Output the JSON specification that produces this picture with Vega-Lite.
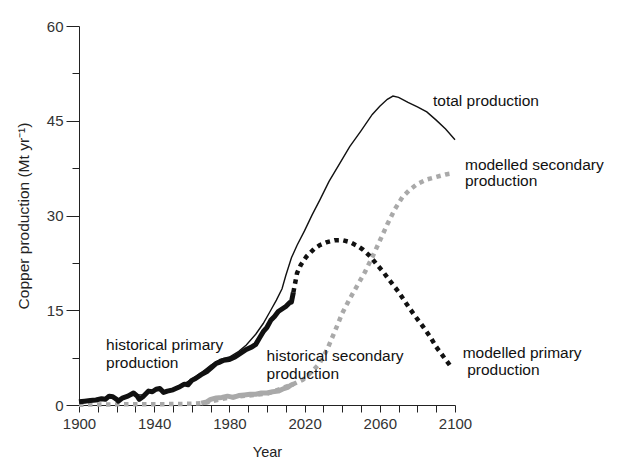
{
  "$schema": "https://vega.github.io/schema/vega-lite/v6.json",
  "autosize": {"type": "none"},
  "width": 376,
  "height": 379,
  "padding": {"left": 79, "top": 26, "right": 167, "bottom": 67},
  "background": "white",
  "config": {
    "view": {"stroke": null},
    "font": "Liberation Sans",
    "axis": {
      "grid": false,
      "domainColor": "#222",
      "domainWidth": 1,
      "tickColor": "#222",
      "tickWidth": 1,
      "labelColor": "#333",
      "labelFont": "Liberation Sans",
      "labelFontSize": 15,
      "labelFlush": false,
      "labelOverlap": false,
      "titleFont": "Liberation Sans",
      "titleFontSize": 14.5,
      "titleFontWeight": "normal",
      "titleColor": "#222"
    }
  },
  "datasets": {
    "lines": [
      {"series": "historical primary", "year": 1900, "value": 0.5},
      {"series": "historical primary", "year": 1903, "value": 0.6},
      {"series": "historical primary", "year": 1906, "value": 0.7},
      {"series": "historical primary", "year": 1909, "value": 0.8},
      {"series": "historical primary", "year": 1912, "value": 1.0},
      {"series": "historical primary", "year": 1914, "value": 0.9},
      {"series": "historical primary", "year": 1916, "value": 1.4},
      {"series": "historical primary", "year": 1918, "value": 1.3},
      {"series": "historical primary", "year": 1920, "value": 0.9},
      {"series": "historical primary", "year": 1921, "value": 0.6},
      {"series": "historical primary", "year": 1923, "value": 1.1},
      {"series": "historical primary", "year": 1926, "value": 1.4},
      {"series": "historical primary", "year": 1929, "value": 1.9},
      {"series": "historical primary", "year": 1931, "value": 1.4},
      {"series": "historical primary", "year": 1932, "value": 0.9},
      {"series": "historical primary", "year": 1934, "value": 1.3},
      {"series": "historical primary", "year": 1937, "value": 2.2},
      {"series": "historical primary", "year": 1939, "value": 2.1},
      {"series": "historical primary", "year": 1941, "value": 2.5},
      {"series": "historical primary", "year": 1943, "value": 2.6},
      {"series": "historical primary", "year": 1945, "value": 2.0},
      {"series": "historical primary", "year": 1947, "value": 2.2},
      {"series": "historical primary", "year": 1950, "value": 2.4},
      {"series": "historical primary", "year": 1953, "value": 2.8},
      {"series": "historical primary", "year": 1956, "value": 3.3},
      {"series": "historical primary", "year": 1958, "value": 3.2},
      {"series": "historical primary", "year": 1960, "value": 3.9},
      {"series": "historical primary", "year": 1962, "value": 4.2},
      {"series": "historical primary", "year": 1965, "value": 4.8},
      {"series": "historical primary", "year": 1968, "value": 5.3},
      {"series": "historical primary", "year": 1970, "value": 5.8},
      {"series": "historical primary", "year": 1973, "value": 6.6},
      {"series": "historical primary", "year": 1975, "value": 6.8},
      {"series": "historical primary", "year": 1977, "value": 7.1},
      {"series": "historical primary", "year": 1980, "value": 7.2},
      {"series": "historical primary", "year": 1983, "value": 7.6},
      {"series": "historical primary", "year": 1986, "value": 8.2},
      {"series": "historical primary", "year": 1989, "value": 8.8},
      {"series": "historical primary", "year": 1992, "value": 9.2},
      {"series": "historical primary", "year": 1994, "value": 9.6},
      {"series": "historical primary", "year": 1996, "value": 10.6},
      {"series": "historical primary", "year": 1998, "value": 11.6},
      {"series": "historical primary", "year": 2000, "value": 12.3},
      {"series": "historical primary", "year": 2002, "value": 13.4},
      {"series": "historical primary", "year": 2004, "value": 14.0},
      {"series": "historical primary", "year": 2006, "value": 14.8},
      {"series": "historical primary", "year": 2008, "value": 15.2},
      {"series": "historical primary", "year": 2010, "value": 15.6},
      {"series": "historical primary", "year": 2012, "value": 16.2},
      {"series": "historical primary", "year": 2013, "value": 16.3},
      {"series": "historical primary", "year": 2014, "value": 17.8},

      {"series": "historical secondary", "year": 1965, "value": 0.3},
      {"series": "historical secondary", "year": 1968, "value": 0.5},
      {"series": "historical secondary", "year": 1970, "value": 0.9},
      {"series": "historical secondary", "year": 1973, "value": 1.1},
      {"series": "historical secondary", "year": 1976, "value": 1.2},
      {"series": "historical secondary", "year": 1979, "value": 1.4},
      {"series": "historical secondary", "year": 1982, "value": 1.2},
      {"series": "historical secondary", "year": 1985, "value": 1.5},
      {"series": "historical secondary", "year": 1988, "value": 1.6},
      {"series": "historical secondary", "year": 1991, "value": 1.7},
      {"series": "historical secondary", "year": 1994, "value": 1.7},
      {"series": "historical secondary", "year": 1997, "value": 1.9},
      {"series": "historical secondary", "year": 2000, "value": 1.9},
      {"series": "historical secondary", "year": 2003, "value": 2.1},
      {"series": "historical secondary", "year": 2006, "value": 2.2},
      {"series": "historical secondary", "year": 2009, "value": 2.6},
      {"series": "historical secondary", "year": 2011, "value": 2.8},
      {"series": "historical secondary", "year": 2013, "value": 3.2},
      {"series": "historical secondary", "year": 2014, "value": 3.3},

      {"series": "modelled secondary", "year": 1900, "value": 0.05},
      {"series": "modelled secondary", "year": 1920, "value": 0.1},
      {"series": "modelled secondary", "year": 1940, "value": 0.1},
      {"series": "modelled secondary", "year": 1960, "value": 0.2},
      {"series": "modelled secondary", "year": 1966, "value": 0.3},
      {"series": "modelled secondary", "year": 1980, "value": 1.2},
      {"series": "modelled secondary", "year": 2000, "value": 1.8},
      {"series": "modelled secondary", "year": 2014, "value": 3.3},
      {"series": "modelled secondary", "year": 2019, "value": 4.0},
      {"series": "modelled secondary", "year": 2024, "value": 5.3},
      {"series": "modelled secondary", "year": 2028, "value": 6.6},
      {"series": "modelled secondary", "year": 2032, "value": 8.8},
      {"series": "modelled secondary", "year": 2036, "value": 11.6},
      {"series": "modelled secondary", "year": 2040, "value": 14.5},
      {"series": "modelled secondary", "year": 2044, "value": 16.8},
      {"series": "modelled secondary", "year": 2048, "value": 18.9},
      {"series": "modelled secondary", "year": 2052, "value": 21.0},
      {"series": "modelled secondary", "year": 2056, "value": 23.4},
      {"series": "modelled secondary", "year": 2060, "value": 26.0},
      {"series": "modelled secondary", "year": 2064, "value": 28.6},
      {"series": "modelled secondary", "year": 2068, "value": 31.0},
      {"series": "modelled secondary", "year": 2072, "value": 32.9},
      {"series": "modelled secondary", "year": 2076, "value": 34.1},
      {"series": "modelled secondary", "year": 2080, "value": 35.0},
      {"series": "modelled secondary", "year": 2085, "value": 35.7},
      {"series": "modelled secondary", "year": 2090, "value": 36.1},
      {"series": "modelled secondary", "year": 2095, "value": 36.5},
      {"series": "modelled secondary", "year": 2099, "value": 36.7},

      {"series": "modelled primary", "year": 2014, "value": 17.8},
      {"series": "modelled primary", "year": 2016, "value": 20.9},
      {"series": "modelled primary", "year": 2018, "value": 22.2},
      {"series": "modelled primary", "year": 2021, "value": 23.5},
      {"series": "modelled primary", "year": 2025, "value": 24.7},
      {"series": "modelled primary", "year": 2028, "value": 25.3},
      {"series": "modelled primary", "year": 2032, "value": 25.8},
      {"series": "modelled primary", "year": 2036, "value": 26.1},
      {"series": "modelled primary", "year": 2040, "value": 26.1},
      {"series": "modelled primary", "year": 2044, "value": 25.8},
      {"series": "modelled primary", "year": 2048, "value": 25.2},
      {"series": "modelled primary", "year": 2051, "value": 24.6},
      {"series": "modelled primary", "year": 2055, "value": 23.5},
      {"series": "modelled primary", "year": 2058, "value": 22.4},
      {"series": "modelled primary", "year": 2062, "value": 21.0},
      {"series": "modelled primary", "year": 2065, "value": 19.8},
      {"series": "modelled primary", "year": 2070, "value": 17.9},
      {"series": "modelled primary", "year": 2074, "value": 16.1},
      {"series": "modelled primary", "year": 2078, "value": 14.4},
      {"series": "modelled primary", "year": 2083, "value": 12.4},
      {"series": "modelled primary", "year": 2087, "value": 10.7},
      {"series": "modelled primary", "year": 2090, "value": 9.2},
      {"series": "modelled primary", "year": 2094, "value": 7.6},
      {"series": "modelled primary", "year": 2097.5, "value": 6.2},

      {"series": "total", "year": 1900, "value": 0.6},
      {"series": "total", "year": 1905, "value": 0.7},
      {"series": "total", "year": 1910, "value": 0.9},
      {"series": "total", "year": 1915, "value": 1.2},
      {"series": "total", "year": 1920, "value": 0.9},
      {"series": "total", "year": 1925, "value": 1.3},
      {"series": "total", "year": 1930, "value": 1.6},
      {"series": "total", "year": 1935, "value": 1.6},
      {"series": "total", "year": 1940, "value": 2.4},
      {"series": "total", "year": 1945, "value": 2.2},
      {"series": "total", "year": 1950, "value": 2.6},
      {"series": "total", "year": 1955, "value": 3.2},
      {"series": "total", "year": 1960, "value": 4.1},
      {"series": "total", "year": 1965, "value": 5.1},
      {"series": "total", "year": 1970, "value": 6.3},
      {"series": "total", "year": 1975, "value": 7.2},
      {"series": "total", "year": 1980, "value": 7.6},
      {"series": "total", "year": 1985, "value": 8.5},
      {"series": "total", "year": 1989, "value": 9.5},
      {"series": "total", "year": 1994, "value": 11.2},
      {"series": "total", "year": 1998, "value": 12.9},
      {"series": "total", "year": 2002, "value": 15.0},
      {"series": "total", "year": 2005, "value": 16.6},
      {"series": "total", "year": 2008, "value": 18.4},
      {"series": "total", "year": 2010, "value": 20.5},
      {"series": "total", "year": 2013, "value": 23.3},
      {"series": "total", "year": 2016, "value": 25.3},
      {"series": "total", "year": 2020, "value": 27.6},
      {"series": "total", "year": 2024, "value": 30.1},
      {"series": "total", "year": 2028, "value": 32.4},
      {"series": "total", "year": 2033, "value": 35.4},
      {"series": "total", "year": 2038, "value": 37.9},
      {"series": "total", "year": 2044, "value": 40.9},
      {"series": "total", "year": 2050, "value": 43.4},
      {"series": "total", "year": 2056, "value": 46.0},
      {"series": "total", "year": 2060, "value": 47.3},
      {"series": "total", "year": 2064, "value": 48.4},
      {"series": "total", "year": 2067, "value": 48.9},
      {"series": "total", "year": 2070, "value": 48.7},
      {"series": "total", "year": 2075, "value": 47.9},
      {"series": "total", "year": 2080, "value": 47.2},
      {"series": "total", "year": 2085, "value": 46.4},
      {"series": "total", "year": 2090, "value": 45.1},
      {"series": "total", "year": 2095, "value": 43.7},
      {"series": "total", "year": 2100, "value": 42.0}
    ],
    "labels": [
      {"text": "total production", "year": 2088.3, "value": 48.2},
      {"text": "modelled secondary", "year": 2105.3, "value": 38.0},
      {"text": "production", "year": 2105.3, "value": 35.4},
      {"text": "modelled primary", "year": 2104.1, "value": 8.2},
      {"text": "production", "year": 2106.5, "value": 5.5},
      {"text": "historical primary", "year": 1914.4, "value": 9.5},
      {"text": "production", "year": 1914.4, "value": 6.7},
      {"text": "historical secondary", "year": 1999.8, "value": 7.76},
      {"text": "production", "year": 1999.8, "value": 4.9}
    ]
  },
  "encoding": {
    "x": {
      "field": "year",
      "type": "quantitative",
      "scale": {"domain": [1900, 2100], "nice": false, "zero": false},
      "axis": {
        "title": "Year",
        "values": [1900, 1910, 1920, 1930, 1940, 1950, 1960, 1970, 1980, 1990, 2000, 2010, 2020, 2030, 2040, 2050, 2060, 2070, 2080, 2090, 2100],
        "format": "d",
        "labelExpr": "datum.value % 40 === 20 ? datum.label : ''",
        "tickSize": 7,
        "labelPadding": 4,
        "titlePadding": 14
      }
    },
    "y": {
      "field": "value",
      "type": "quantitative",
      "scale": {"domain": [0, 60], "nice": false},
      "axis": {
        "title": "Copper production (Mt yr⁻¹)",
        "titleFontSize": 15.5,
        "values": [0, 7.5, 15, 22.5, 30, 37.5, 45, 52.5, 60],
        "labelExpr": "datum.value % 15 === 0 ? datum.label : ''",
        "tickSize": {"expr": "datum.value % 15 === 0 ? 13 : 7"},
        "labelPadding": 3,
        "titlePadding": 15
      }
    }
  },
  "layer": [
    {
      "data": {"name": "lines"},
      "transform": [{"filter": "datum.series === 'modelled secondary'"}],
      "mark": {"type": "line", "color": "#a9a9a9", "strokeWidth": 4.5, "strokeDash": [4.5, 4.5], "strokeCap": "butt"}
    },
    {
      "data": {"name": "lines"},
      "transform": [{"filter": "datum.series === 'historical secondary'"}],
      "mark": {"type": "line", "color": "#a9a9a9", "strokeWidth": 5, "strokeJoin": "round"}
    },
    {
      "data": {"name": "lines"},
      "transform": [{"filter": "datum.series === 'modelled primary'"}],
      "mark": {"type": "line", "color": "#111", "strokeWidth": 4.5, "strokeDash": [4.5, 4.5], "strokeCap": "butt"}
    },
    {
      "data": {"name": "lines"},
      "transform": [{"filter": "datum.series === 'historical primary'"}],
      "mark": {"type": "line", "color": "#111", "strokeWidth": 5, "strokeJoin": "round"}
    },
    {
      "data": {"name": "lines"},
      "transform": [{"filter": "datum.series === 'total'"}],
      "mark": {"type": "line", "color": "#111", "strokeWidth": 1.4}
    },
    {
      "data": {"name": "labels"},
      "mark": {"type": "text", "align": "left", "baseline": "middle", "font": "Liberation Sans", "fontSize": 15.5, "color": "#111"},
      "encoding": {"text": {"field": "text"}}
    }
  ]
}
